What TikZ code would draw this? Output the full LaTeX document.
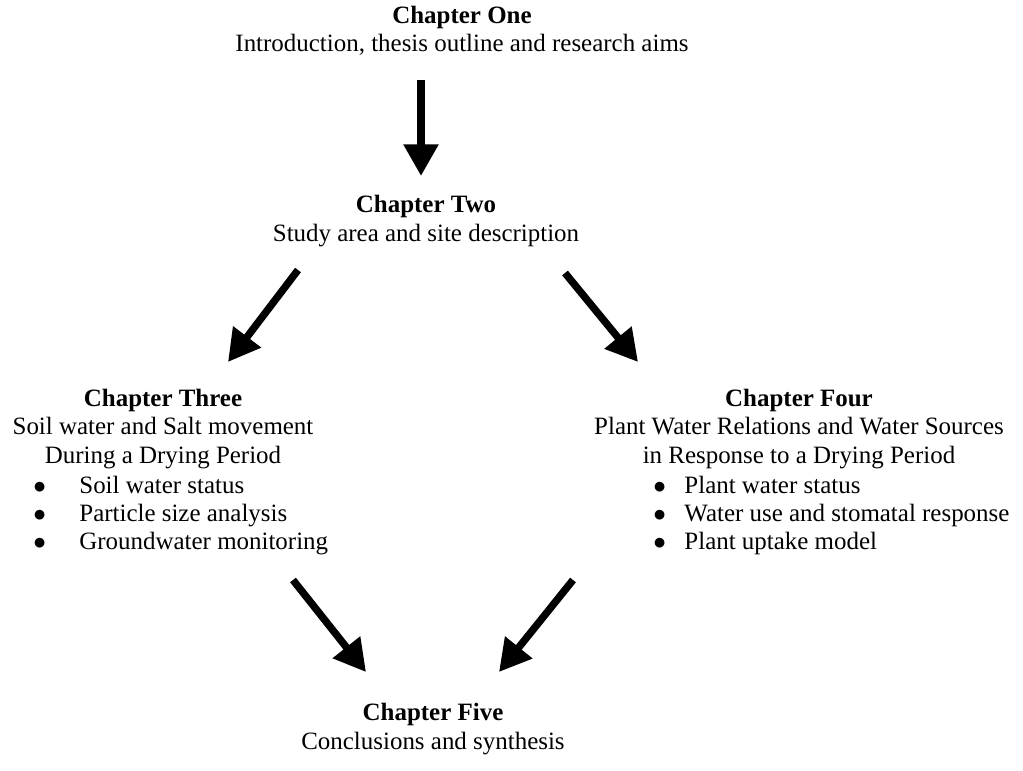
\documentclass[tikz,border=0pt]{standalone}
\usepackage{fontspec}
\setmainfont{Liberation Serif}
\usetikzlibrary{arrows.meta}

\tikzset{
  chap/.style={align=center, font=\fontsize{14.2}{16}\selectfont, inner sep=0pt},
  bullets/.style={anchor=west, font=\fontsize{14.2}{16}\selectfont, inner sep=0pt},
  bigarrow/.style={line width=4.2pt, -{Triangle[width=19pt,length=18pt]}},
}
\newcommand{\chapbullets}[4]{%
  \renewcommand{\arraystretch}{1.0}%
  \begin{tabular}{@{}l@{\hspace{#1}}l@{}}
    $\bullet$ & #2\\
    $\bullet$ & #3\\
    $\bullet$ & #4
  \end{tabular}}

\begin{document}
\begin{tikzpicture}[x=0.02cm, y=-0.02cm]
    \useasboundingbox (0,0) rectangle (1023,770);
    % Chapter One
    \node[chap] (one) at (462, 31) {\textbf{Chapter One}\\Introduction, thesis outline and research aims};
    % Chapter Two
    \node[chap] (two) at (426, 221) {\textbf{Chapter Two}\\Study area and site description};
    % Chapter Three
    \node[chap] (three) at (163, 429) {\textbf{Chapter Three}\\Soil water and Salt movement\\During a Drying Period};
    \node[bullets] (threelist) at (33, 516) {\chapbullets{19pt}{Soil water status}{Particle size analysis}{Groundwater monitoring}};
    % Chapter Four
    \node[chap] (four) at (799, 429) {\textbf{Chapter Four}\\Plant Water Relations and Water Sources\\in Response to a Drying Period};
    \node[bullets] (fourlist) at (653, 516) {\chapbullets{10.5pt}{Plant water status}{Water use and stomatal response}{Plant uptake model}};
    % Chapter Five
    \node[chap] (five) at (433, 729) {\textbf{Chapter Five}\\Conclusions and synthesis};
    % arrow ends
    \coordinate (a1s) at (421, 80);  \coordinate (a1e) at (421, 176);
    \coordinate (a2s) at (298, 270); \coordinate (a2e) at (228, 362);
    \coordinate (a3s) at (565, 273); \coordinate (a3e) at (638, 362);
    \coordinate (a4s) at (293, 580); \coordinate (a4e) at (366, 672);
    \coordinate (a5s) at (573, 580); \coordinate (a5e) at (499, 672);
    % arrows
    \draw[bigarrow] (a1s) -- (a1e);
    \draw[bigarrow] (a2s) -- (a2e);
    \draw[bigarrow] (a3s) -- (a3e);
    \draw[bigarrow] (a4s) -- (a4e);
    \draw[bigarrow] (a5s) -- (a5e);
\end{tikzpicture}
\end{document}
